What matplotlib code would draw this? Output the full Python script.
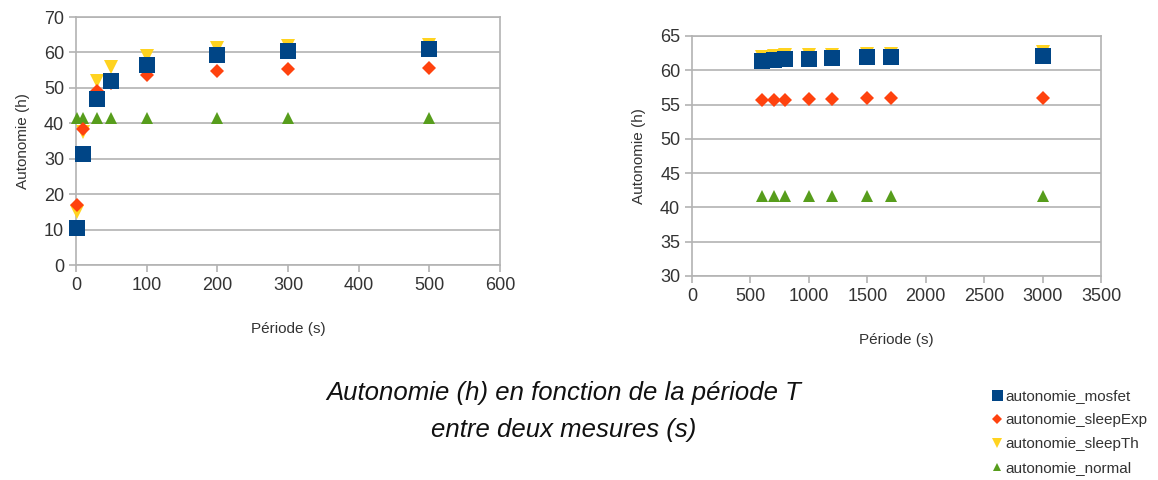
import matplotlib
matplotlib.use("Agg")
import matplotlib.pyplot as plt

plt.rcParams['font.family'] = ['Liberation Sans', 'DejaVu Sans']

# Données : période courte (graphique de gauche)
periode_1 = [1, 10, 30, 50, 100, 200, 300, 500]
mosfet_1 = [10.5, 31.2, 46.8, 51.9, 56.5, 59.4, 60.3, 61.0]
sleep_exp_1 = [17.0, 38.5, 49.0, 51.5, 53.6, 54.8, 55.2, 55.5]
sleep_th_1 = [15.0, 37.5, 52.0, 55.8, 59.0, 61.3, 61.9, 62.2]
normal_1 = [41.6, 41.6, 41.6, 41.6, 41.6, 41.6, 41.6, 41.6]

# Données : période longue (graphique de droite)
periode_2 = [600, 700, 800, 1000, 1200, 1500, 1700, 3000]
mosfet_2 = [61.3, 61.5, 61.6, 61.7, 61.8, 61.9, 61.9, 62.1]
sleep_exp_2 = [55.6, 55.7, 55.7, 55.8, 55.8, 55.9, 55.9, 56.0]
sleep_th_2 = [62.0, 62.1, 62.2, 62.3, 62.3, 62.4, 62.4, 62.6]
normal_2 = [41.6, 41.6, 41.6, 41.6, 41.6, 41.6, 41.6, 41.6]

noms = ["autonomie_mosfet", "autonomie_sleepExp", "autonomie_sleepTh", "autonomie_normal"]
couleurs = ["#004586", "#ff420e", "#ffd320", "#579d1c"]
marqueurs = ["s", "D", "v", "^"]
tailles = [11, 7.5, 10, 8.5]

gris = "#b3b3b3"
texte = "#333333"

fig = plt.figure(figsize=(11.58, 4.8), dpi=100)
ax1 = fig.add_axes([76 / 1158, 1 - 265 / 480, 424 / 1158, 248 / 480])
ax2 = fig.add_axes([692 / 1158, 1 - 276 / 480, 409 / 1158, 240 / 480])


def tracer(ax, x, series):
    handles = [None] * 4
    # ordre de dessin : normal, sleepTh, sleepExp, mosfet (mosfet au-dessus)
    for i in [3, 2, 1, 0]:
        h, = ax.plot(x, series[i], linestyle="none", marker=marqueurs[i],
                     markersize=tailles[i], color=couleurs[i],
                     markeredgewidth=0, label=noms[i], zorder=3 + (3 - i),
                     clip_on=False)
        handles[i] = h
    ax.grid(axis="y", color=gris, linewidth=1.2)
    ax.set_axisbelow(True)
    for s in ax.spines.values():
        s.set_color(gris)
        s.set_linewidth(1.2)
    ax.tick_params(colors=gris, labelcolor=texte, labelsize=13, length=5, width=1.2)
    ax.set_xlabel("Période (s)", fontsize=11, color=texte, labelpad=20)
    ax.set_ylabel("Autonomie (h)", fontsize=11, color=texte, labelpad=10)
    return handles


handles = tracer(ax1, periode_1, [mosfet_1, sleep_exp_1, sleep_th_1, normal_1])
ax1.set_xlim(0, 600)
ax1.set_ylim(0, 70)
ax1.set_xticks(range(0, 601, 100))
ax1.set_yticks(range(0, 71, 10))

tracer(ax2, periode_2, [mosfet_2, sleep_exp_2, sleep_th_2, normal_2])
ax2.set_xlim(0, 3500)
ax2.set_ylim(30, 65)
ax2.set_xticks(range(0, 3501, 500))
ax2.set_yticks(range(30, 66, 5))

fig.text(0.487, 1 - 393 / 480, "Autonomie (h) en fonction de la période T",
         ha="center", va="center", fontsize=18.5, style="italic", color="#111111")
fig.text(0.487, 1 - 430 / 480, "entre deux mesures (s)",
         ha="center", va="center", fontsize=18.5, style="italic", color="#111111")

fig.legend(handles=handles, labels=noms, loc="center left",
           bbox_to_anchor=(986 / 1158, 1 - 432 / 480), frameon=False,
           fontsize=11, handlelength=0.5, handletextpad=0.3, labelspacing=0.65,
           borderpad=0, labelcolor=texte, markerscale=0.72)

fig.savefig("out.png", dpi=100)
